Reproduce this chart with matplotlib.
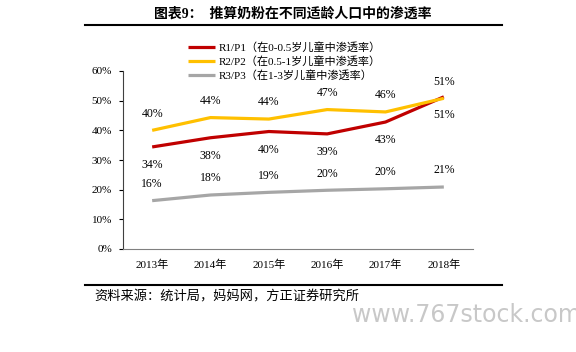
import matplotlib
matplotlib.use('Agg')
import matplotlib.pyplot as plt
import numpy as np

plt.rcParams['font.family'] = ['Liberation Serif', 'Noto Sans CJK SC']

years = ['2013年', '2014年', '2015年', '2016年', '2017年', '2018年']
r1 = [34.4, 37.5, 39.6, 38.8, 42.8, 51.3]
r2 = [40.0, 44.3, 43.8, 47.0, 46.2, 50.8]
r3 = [16.3, 18.2, 19.1, 19.8, 20.3, 20.9]
r1_labels = ['34%', '38%', '40%', '39%', '43%', '51%']
r2_labels = ['40%', '44%', '44%', '47%', '46%', '51%']
r3_labels = ['16%', '18%', '19%', '20%', '20%', '21%']
names = ['R1/P1（在0-0.5岁儿童中渗透率）',
         'R2/P2（在0.5-1岁儿童中渗透率）',
         'R3/P3（在1-3岁儿童中渗透率）']
colors = ['#C00000', '#FFC000', '#A6A6A6']

W, H = 576, 352
fig = plt.figure(figsize=(W / 100, H / 100), dpi=100)
ax = fig.add_axes([123 / W, 1 - 249 / H, 350 / W, 178 / H])

x = np.arange(len(years))
for vals, c, n in zip([r1, r2, r3], colors, names):
    ax.plot(x, vals, color=c, lw=2.3, label=n, solid_capstyle='butt')

# data labels: red below, others above
for i in x:
    ax.annotate(r1_labels[i], (i, r1[i]), xytext=(0, -13), textcoords='offset points',
                ha='center', va='center', fontsize=8.5)
    ax.annotate(r2_labels[i], (i, r2[i]), xytext=(0, 12), textcoords='offset points',
                ha='center', va='center', fontsize=8.5)
    ax.annotate(r3_labels[i], (i, r3[i]), xytext=(0, 12), textcoords='offset points',
                ha='center', va='center', fontsize=8.5)

ax.set_xlim(-0.5, 5.5)
ax.set_ylim(0, 60)
ax.set_yticks(np.arange(0, 61, 10))
ax.set_yticklabels([f'{v}%' for v in range(0, 61, 10)], fontsize=8)
ax.set_xticks(x)
ax.set_xticklabels(years, fontsize=8)
ax.tick_params(axis='x', length=0, pad=8)
ax.tick_params(axis='y', length=3, direction='out', pad=5)
for s in ['top', 'right']:
    ax.spines[s].set_visible(False)
ax.spines['left'].set_color('#404040')
ax.spines['bottom'].set_color('#808080')

ax.legend(loc='upper left', bbox_to_anchor=(178 / W, 1 - 32 / H), bbox_transform=fig.transFigure,
          frameon=False, fontsize=8, handlelength=2.4, handletextpad=0.4, labelspacing=0.3)

# title and rules
fig.text(293 / W, 1 - 14 / H, '图表9：  推算奶粉在不同适龄人口中的渗透率',
         ha='center', va='center', fontsize=10, fontweight='bold')
fig.add_artist(plt.Line2D([85 / W, 502 / W], [1 - 25 / H, 1 - 25 / H], color='black', lw=1.5))
fig.add_artist(plt.Line2D([85 / W, 502 / W], [1 - 285 / H, 1 - 285 / H], color='black', lw=1.5))
fig.text(94 / W, 1 - 297 / H, '资料来源：统计局，妈妈网，方正证券研究所',
         ha='left', va='center', fontsize=9.5, style='italic')
fig.text(352 / W, 1 - 315 / H, 'www.767stock.com', ha='left', va='center',
         fontsize=17, color='#C8C8C8', family='DejaVu Sans')

fig.savefig('out.png', dpi=100)
